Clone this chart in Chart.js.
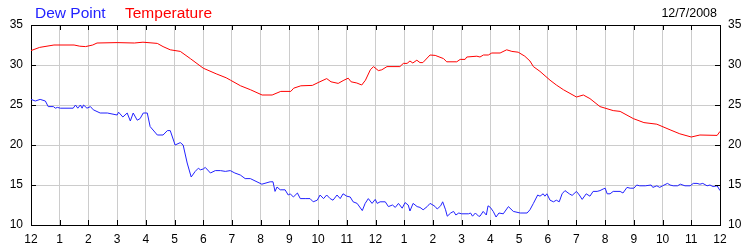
<!DOCTYPE html>
<html>
<head>
<meta charset="utf-8">
<script src="https://cdn.jsdelivr.net/npm/chart.js@4/dist/chart.umd.min.js"></script>
<style>
  html, body { margin: 0; padding: 0; background: #fff; }
  #wx { display: block; }
</style>
</head>
<body>
<canvas id="wx" width="750" height="250"></canvas>
<script>
// hour labels along the bottom (midnight to midnight)
const hourLabels = ['12','1','2','3','4','5','6','7','8','9','10','11',
                    '12','1','2','3','4','5','6','7','8','9','10','11','12'];
const yTicks = [10, 15, 20, 25, 30, 35];

// temperature, hours since midnight / value
const tempHours = [0,0.3,0.8,1.5,1.7,1.9,2.15,2.3,3.0,3.6,3.9,4.4,4.6,4.85,5.2,5.55,6.0,6.45,6.8,6.95,
  7.3,7.65,8.05,8.4,8.7,9.05,9.15,9.4,9.8,10.0,10.3,10.45,10.7,10.9,11.05,11.15,11.35,11.52,11.65,11.82,
  11.93,12.1,12.22,12.4,12.85,12.97,13.1,13.2,13.3,13.44,13.55,13.65,13.9,14.08,14.37,14.48,14.83,14.95,15.12,15.18,
  15.53,15.64,15.76,15.93,16.05,16.34,16.57,16.75,16.97,17.2,17.38,17.5,17.73,18.08,18.3,18.55,19.0,19.24,19.47,19.82,
  20.28,20.52,20.98,21.35,21.8,22.26,22.6,23.0,23.3,23.9,24.0];
const tempValues = [31.8,32.2,32.5,32.5,32.35,32.3,32.5,32.75,32.8,32.75,32.85,32.7,32.3,31.9,31.7,30.8,29.6,28.9,28.4,28.1,
  27.4,26.9,26.25,26.25,26.7,26.7,27.1,27.4,27.45,27.8,28.3,27.9,27.7,28.1,28.35,27.9,27.75,27.5,28.1,29.4,
  29.8,29.3,29.4,29.8,29.8,30.2,30.2,30.5,30.25,30.6,30.3,30.3,31.25,31.2,30.8,30.4,30.4,30.7,30.7,31.0,
  31.1,31.0,31.25,31.25,31.5,31.5,31.9,31.7,31.6,31.1,30.5,29.8,29.2,28.1,27.5,26.9,26.0,26.25,25.8,24.8,
  24.3,24.2,23.3,22.8,22.6,21.9,21.4,21.0,21.25,21.2,21.7];

// dew point
const dewHours = [0,0.15,0.32,0.5,0.6,0.78,0.85,0.92,1.02,1.47,1.55,1.63,1.72,1.78,1.83,1.95,2.07,2.17,2.41,2.66,
  3.0,3.05,3.2,3.35,3.46,3.56,3.7,3.8,3.91,4.05,4.15,4.4,4.6,4.75,4.85,5.02,5.2,5.3,5.44,5.58,
  5.72,5.83,5.9,6.0,6.07,6.25,6.42,6.6,6.77,6.94,7.1,7.29,7.46,7.64,8.04,8.33,8.43,8.5,8.57,8.68,
  8.85,8.96,9.03,9.14,9.28,9.38,9.55,9.72,9.83,9.97,10.07,10.19,10.3,10.42,10.52,10.66,10.77,10.87,11.0,11.12,
  11.22,11.36,11.54,11.64,11.75,11.88,11.99,12.06,12.16,12.34,12.45,12.59,12.69,12.8,12.93,13.03,13.14,13.2,13.31,13.45,
  13.55,13.66,13.8,13.9,14.0,14.08,14.15,14.27,14.34,14.44,14.5,14.62,14.72,14.8,14.9,15.0,15.24,15.31,15.38,15.48,
  15.59,15.64,15.75,15.86,15.92,16.0,16.1,16.2,16.3,16.45,16.63,16.8,17.04,17.28,17.38,17.5,17.65,17.73,17.84,17.9,
  17.97,18.08,18.2,18.3,18.4,18.5,18.6,18.75,18.85,19.0,19.1,19.2,19.34,19.47,19.58,19.72,19.82,19.93,20.0,20.07,
  20.17,20.28,20.52,20.62,20.76,20.87,21.0,21.1,21.2,21.4,21.6,21.66,21.8,21.9,22.0,22.17,22.26,22.37,22.52,22.62,
  22.78,22.96,23.07,23.2,23.3,23.4,23.55,23.65,23.76,23.9,24.0];
const dewValues = [25.7,25.5,25.7,25.5,24.8,24.8,24.6,24.7,24.6,24.6,25.0,24.6,25.0,24.6,25.0,24.6,24.8,24.4,24.0,24.0,
  23.75,24.1,23.5,24.0,23.0,24.0,23.1,23.3,24.0,24.0,22.3,21.25,21.25,21.8,21.8,20.0,20.3,20.0,17.75,16.0,
  16.7,17.1,16.9,17.0,17.2,16.5,16.8,16.8,16.7,16.8,16.5,16.25,15.8,15.8,15.1,15.4,15.4,14.2,14.75,14.4,
  14.4,13.75,13.9,13.5,14.0,13.3,13.3,13.3,12.9,13.1,13.75,13.3,13.75,13.3,13.1,13.75,13.3,13.9,13.6,13.5,
  12.9,12.7,11.8,12.7,13.3,12.7,13.2,12.7,12.9,12.9,12.3,12.5,12.2,12.7,12.1,12.8,12.5,11.75,12.7,12.3,
  12.2,11.9,12.3,12.7,12.5,12.3,12.0,12.4,12.9,11.9,11.1,11.5,11.7,11.25,11.5,11.4,11.4,11.5,11.1,11.5,
  11.1,11.1,11.7,11.25,12.4,12.2,11.7,11.0,11.5,11.4,12.3,11.7,11.5,11.5,11.9,12.7,13.75,13.6,13.9,13.6,
  13.9,13.1,12.9,13.1,12.9,13.9,14.3,13.9,13.7,14.2,13.75,13.2,13.9,13.6,14.2,14.2,14.3,14.5,14.6,13.9,
  13.9,14.2,14.2,14.0,14.7,14.6,14.6,15.0,14.9,14.9,15.0,14.7,14.9,14.7,14.9,15.2,15.0,14.9,14.9,15.1,
  14.9,14.9,15.2,15.2,15.1,15.2,14.9,15.0,14.8,14.9,14.3];

const BLUE = '#2222ff';
const RED = '#ff0000';
const FONT = 'Liberation Sans, Arial, sans-serif';

function toPoints(xs, ys) {
  return xs.map((h, i) => ({ x: h, y: ys[i] }));
}

// header text + black tick marks pointing into the plot
const decorPlugin = {
  id: 'decor',
  afterDraw(chart) {
    const ctx = chart.ctx;
    const a = chart.chartArea;
    const x = chart.scales.x, y = chart.scales.y;
    ctx.save();
    ctx.strokeStyle = '#000';
    ctx.lineWidth = 1;
    ctx.beginPath();
    hourLabels.forEach((_, h) => {
      const px = Math.round(x.getPixelForValue(h)) + 0.5;
      ctx.moveTo(px, a.bottom); ctx.lineTo(px, a.bottom - 5);
      ctx.moveTo(px, a.top); ctx.lineTo(px, a.top + 5);
    });
    yTicks.forEach(v => {
      const py = Math.round(y.getPixelForValue(v)) + 0.5;
      ctx.moveTo(a.left, py); ctx.lineTo(a.left + 5, py);
      ctx.moveTo(a.right, py); ctx.lineTo(a.right - 5, py);
    });
    ctx.stroke();

    ctx.textBaseline = 'alphabetic';
    ctx.font = '15.5px ' + FONT;
    ctx.textAlign = 'left';
    ctx.fillStyle = BLUE;
    ctx.fillText('Dew Point', 35, 18);
    ctx.fillStyle = RED;
    ctx.fillText('Temperature', 125, 18);
    ctx.font = '12.5px ' + FONT;
    ctx.fillStyle = '#000';
    ctx.textAlign = 'right';
    ctx.fillText('12/7/2008', 717, 16.5);
    ctx.restore();
  }
};

const yAxis = (pos, w) => ({
  position: pos,
  min: 10, max: 35,
  afterFit: s => { s.width = w; },
  afterBuildTicks: s => { s.ticks = yTicks.map(v => ({ value: v })); },
  ticks: { color: '#000', font: { family: FONT, size: 12 }, padding: 8 },
  grid: { color: '#cccccc', drawTicks: false, drawOnChartArea: pos === 'left' },
  border: { color: '#000' }
});

new Chart(document.getElementById('wx'), {
  type: 'line',
  data: {
    datasets: [
      { label: 'Temperature', data: toPoints(tempHours, tempValues), borderColor: RED,
        borderWidth: 1, pointRadius: 0, tension: 0, yAxisID: 'y' },
      { label: 'Dew Point', data: toPoints(dewHours, dewValues), borderColor: BLUE,
        borderWidth: 1, pointRadius: 0, tension: 0, yAxisID: 'y' }
    ]
  },
  options: {
    responsive: false,
    devicePixelRatio: 1,
    animation: false,
    layout: { padding: { top: 25, left: 0, right: 0, bottom: 0 } },
    plugins: { legend: { display: false }, tooltip: { enabled: false } },
    scales: {
      x: {
        type: 'linear', position: 'bottom', min: 0, max: 24,
        afterFit: s => { s.height = 25; },
        afterBuildTicks: s => { s.ticks = hourLabels.map((_, i) => ({ value: i })); },
        ticks: {
          color: '#000', font: { family: FONT, size: 12 }, padding: 7,
          maxRotation: 0, autoSkip: false,
          callback: v => hourLabels[v]
        },
        grid: { color: '#cccccc', drawTicks: false },
        border: { color: '#000' }
      },
      x2: {
        type: 'linear', position: 'top', min: 0, max: 24,
        afterFit: s => { s.height = 0; },
        ticks: { display: false },
        grid: { display: false, drawTicks: false },
        border: { color: '#000' }
      },
      y: yAxis('left', 31),
      y2: yAxis('right', 30)
    }
  },
  plugins: [decorPlugin]
});
</script>
</body>
</html>
